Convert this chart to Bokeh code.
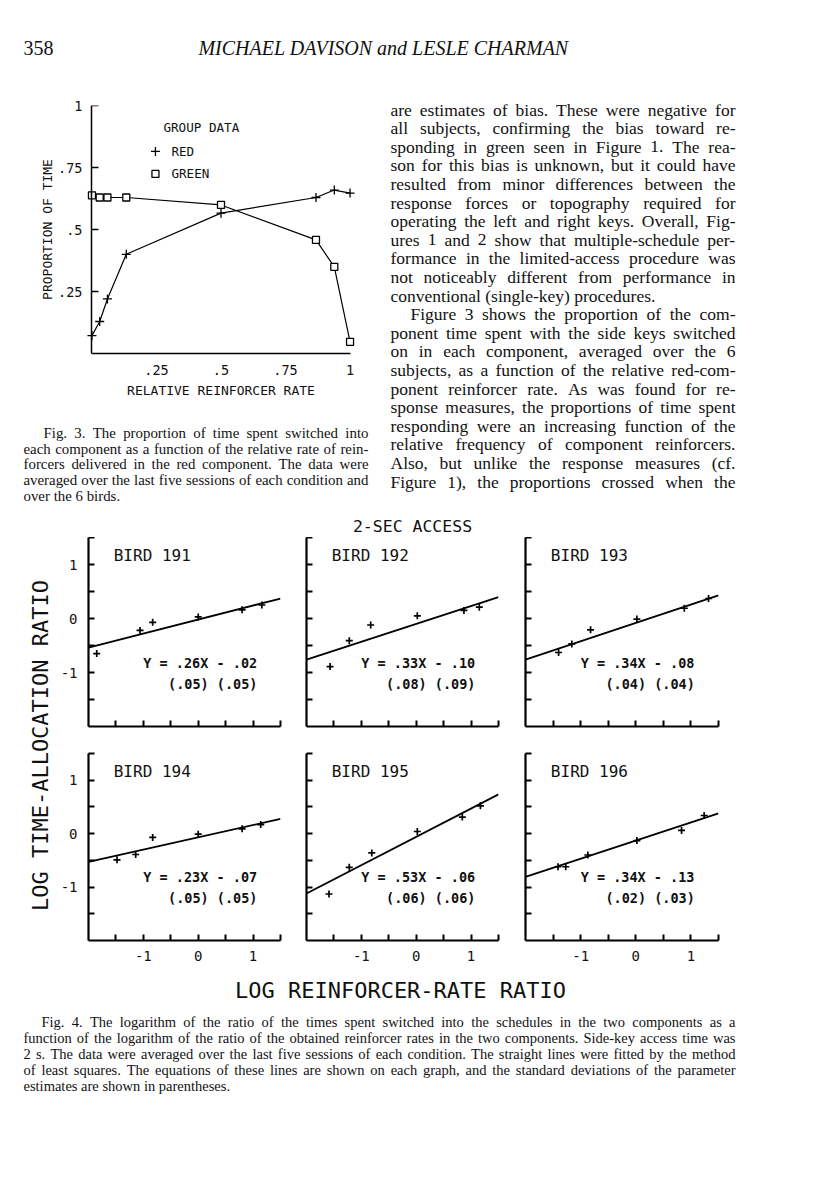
import math
from bokeh.plotting import figure
from bokeh.models import Range1d, FixedTicker, LinearAxis
from bokeh.layouts import row, column
from bokeh.core.properties import value
from bokeh.embed import file_html
from bokeh.resources import INLINE

# ---------------- Fig. 3 data ----------------
rel_red_rate = [0.0, 0.03, 0.06, 0.133, 0.5, 0.868, 0.939, 1.0]
prop_red = [0.072, 0.129, 0.22, 0.40, 0.566, 0.629, 0.659, 0.647]
prop_green = [0.638, 0.629, 0.629, 0.629, 0.599, 0.458, 0.349, 0.047]
fig3_ticks = [0.25, 0.5, 0.75, 1.0]
fig3_tick_labels = [".25", ".5", ".75", "1"]

# ---------------- Fig. 4 data ----------------
bird_names = ["BIRD 191", "BIRD 192", "BIRD 193", "BIRD 194", "BIRD 195", "BIRD 196"]
log_rr_191 = [-1.85, -1.06, -0.83, 0.00, 0.80, 1.16]
log_ta_191 = [-0.65, -0.22, -0.07, 0.03, 0.16, 0.25]
log_rr_192 = [-1.57, -1.22, -0.83, 0.02, 0.87, 1.15]
log_ta_192 = [-0.89, -0.41, -0.12, 0.05, 0.15, 0.21]
log_rr_193 = [-1.40, -1.16, -0.82, 0.02, 0.88, 1.32]
log_ta_193 = [-0.63, -0.47, -0.21, -0.01, 0.19, 0.37]
log_rr_194 = [-1.48, -1.14, -0.83, 0.00, 0.80, 1.14]
log_ta_194 = [-0.49, -0.39, -0.07, -0.01, 0.09, 0.17]
log_rr_195 = [-1.59, -1.22, -0.81, 0.02, 0.84, 1.17]
log_ta_195 = [-1.13, -0.63, -0.36, 0.04, 0.31, 0.52]
log_rr_196 = [-1.41, -1.27, -0.87, 0.02, 0.83, 1.24]
log_ta_196 = [-0.62, -0.62, -0.40, -0.13, 0.06, 0.34]
slopes = [0.26, 0.33, 0.34, 0.23, 0.53, 0.34]
intercepts = [-0.02, -0.10, -0.08, -0.07, -0.06, -0.13]
equations = ["Y = .26X - .02", "Y = .33X - .10", "Y = .34X - .08",
             "Y = .23X - .07", "Y = .53X - .06", "Y = .34X - .13"]
std_devs = ["(.05)  (.05)", "(.08)  (.09)", "(.04)  (.04)",
            "(.05)  (.05)", "(.06)  (.06)", "(.02)  (.03)"]
fig4_major_ticks = [-1, 0, 1]
fig4_minor_ticks = [-1.5, -0.5, 0.5, 1.5]
fig4_tick_labels = ["-1", "0", "1"]
log_rr = [log_rr_191, log_rr_192, log_rr_193, log_rr_194, log_rr_195, log_rr_196]
log_ta = [log_ta_191, log_ta_192, log_ta_193, log_ta_194, log_ta_195, log_ta_196]

# ---------------- page text ----------------
page_number = "358"
running_head = "MICHAEL DAVISON and LESLE CHARMAN"
right_column_lines = [
    "are estimates of bias. These were negative for",
    "all subjects, confirming the bias toward re-",
    "sponding in green seen in Figure 1. The rea-",
    "son for this bias is unknown, but it could have",
    "resulted from minor differences between the",
    "response forces or topography required for",
    "operating the left and right keys. Overall, Fig-",
    "ures 1 and 2 show that multiple-schedule per-",
    "formance in the limited-access procedure was",
    "not noticeably different from performance in",
    "conventional (single-key) procedures.",
    "Figure 3 shows the proportion of the com-",
    "ponent time spent with the side keys switched",
    "on in each component, averaged over the 6",
    "subjects, as a function of the relative red-com-",
    "ponent reinforcer rate. As was found for re-",
    "sponse measures, the proportions of time spent",
    "responding were an increasing function of the",
    "relative frequency of component reinforcers.",
    "Also, but unlike the response measures (cf.",
    "Figure 1), the proportions crossed when the",
]
caption3_lines = [
    "Fig. 3.  The proportion of time spent switched into",
    "each component as a function of the relative rate of rein-",
    "forcers delivered in the red component. The data were",
    "averaged over the last five sessions of each condition and",
    "over the 6 birds.",
]
caption4_lines = [
    "Fig. 4.  The logarithm of the ratio of the times spent switched into the schedules in the two components as a",
    "function of the logarithm of the ratio of the obtained reinforcer rates in the two components. Side-key access time was",
    "2 s. The data were averaged over the last five sessions of each condition. The straight lines were fitted by the method",
    "of least squares. The equations of these lines are shown on each graph, and the standard deviations of the parameter",
    "estimates are shown in parentheses.",
]

MONO = "DejaVu Sans Mono"
SERIF = "Liberation Serif"
INK = "#111111"

# Times-compatible advance widths (1/1000 em) used to justify lines
TW = {' ': 250, '!': 333, '"': 408, '(': 333, ')': 333, ',': 250, '-': 333, '.': 250,
      '/': 278, ':': 278, ';': 278, "'": 333, '?': 444}
for d in "0123456789":
    TW[d] = 500
TW.update(dict(A=722, B=667, C=667, D=722, E=611, F=556, G=722, H=722, I=333, J=389, K=722,
               L=611, M=889, N=722, O=722, P=556, Q=722, R=667, S=556, T=611, U=722, V=722,
               W=944, X=722, Y=722, Z=611))
TW.update(dict(a=444, b=500, c=444, d=500, e=444, f=333, g=500, h=500, i=278, j=278, k=500,
               l=278, m=778, n=500, o=500, p=500, q=500, r=333, s=389, t=278, u=500, v=500,
               w=722, x=500, y=500, z=444))


def em_width(s):
    return sum(TW.get(c, 500) for c in s) / 1000.0


def text_canvas(x0, y0, w, h):
    p = figure(width=w, height=h, x_range=Range1d(x0, x0 + w), y_range=Range1d(y0 + h, y0),
               output_backend="svg", toolbar_location=None, title=None,
               x_axis_location=None, y_axis_location=None, min_border=0, frame_align=False)
    p.outline_line_color = None
    p.grid.visible = False
    return p


def set_block(p, lines, x_left, width, y_first, lead, fs_cap, indent, indented, last):
    # font size: as large as allowed while every justified line still fits
    fits = []
    for i, line in enumerate(lines):
        if i in last:
            continue
        avail = width - (indent if i in indented else 0)
        fits.append(avail * 0.99 / em_width(line))
    fs = min([fs_cap] + fits)
    xs, ys, ts = [], [], []
    for i, line in enumerate(lines):
        words = line.split()
        x0 = x_left + (indent if i in indented else 0)
        avail = x_left + width - x0
        wds = [em_width(w) * fs for w in words]
        if i in last or len(words) < 2:
            gap = 0.25 * fs
        else:
            gap = (avail - sum(wds)) / (len(words) - 1)
        x = x0
        yb = y_first + i * lead + 0.23 * fs
        for w, wd in zip(words, wds):
            xs.append(x)
            ys.append(yb)
            ts.append(w)
            x += wd + gap
    p.text(x=xs, y=ys, text=ts, text_font=value(SERIF), text_font_size=value(f"{fs:.2f}px"),
           text_baseline="alphabetic", text_align="left", text_color=INK)


# ---------------- header ----------------
header = text_canvas(0, 0, 816, 80)
header.text(x=[23], y=[47], text=[page_number], text_font=value(SERIF),
            text_font_size=value("20px"), text_baseline="alphabetic", text_color=INK)
header.text(x=[383], y=[47], text=[running_head], text_font=value(SERIF),
            text_font_size=value("20px"), text_font_style="italic", text_align="center",
            text_baseline="alphabetic", text_color=INK)

# ---------------- Fig. 3 ----------------
p3 = figure(width=380, height=320, x_range=Range1d(-0.025, 1.025), y_range=Range1d(0, 1),
            output_backend="svg", toolbar_location=None, title=None, frame_align=False,
            min_border_left=85, min_border_right=24, min_border_top=25, min_border_bottom=42)
p3.outline_line_color = None
p3.grid.visible = False
p3.line(rel_red_rate, prop_red, line_color="black", line_width=1.2)
p3.line(rel_red_rate, prop_green, line_color="black", line_width=1.2)
p3.scatter(rel_red_rate, prop_red, marker="cross", size=9, line_color="black", line_width=1.3)
p3.scatter(rel_red_rate, prop_green, marker="square", size=7, fill_color="white",
           line_color="black", line_width=1.3)
# legend
p3.text(x=[0.277], y=[0.913], text=["GROUP DATA"], text_font=value(MONO),
        text_font_size=value("12.6px"), text_baseline="middle", text_color=INK)
p3.scatter([0.246], [0.815], marker="cross", size=9, line_color="black", line_width=1.3)
p3.scatter([0.246], [0.724], marker="square", size=7, fill_color="white", line_color="black",
           line_width=1.3)
p3.text(x=[0.308, 0.308], y=[0.815, 0.724], text=["RED", "GREEN"], text_font=value(MONO),
        text_font_size=value("12.6px"), text_baseline="middle", text_color=INK)

xa = p3.xaxis[0]
ya = p3.yaxis[0]          # labels only (drawn at the frame edge)
y_line = LinearAxis(fixed_location=0)   # axis line + ticks drawn at x = 0
p3.add_layout(y_line, "left")
for ax in (xa, ya, y_line):
    ax.ticker = FixedTicker(ticks=fig3_ticks)
    ax.major_label_text_font = MONO
    ax.major_label_text_font_size = "13.5px"
    ax.major_label_text_color = INK
    ax.axis_label_text_font = MONO
    ax.axis_label_text_font_size = "13px"
    ax.axis_label_text_font_style = "normal"
    ax.axis_label_text_color = INK
    ax.axis_line_width = 1.5
    ax.major_tick_line_width = 1.5
    ax.minor_tick_line_color = None
xa.bounds = (0, 1)
xa.major_label_overrides = dict(zip(fig3_ticks, fig3_tick_labels))
xa.major_tick_in = 0
xa.major_tick_out = 0
xa.major_label_standoff = 11
xa.axis_label = "RELATIVE REINFORCER RATE"
xa.axis_label_standoff = 5

ya.major_label_overrides = dict(zip(fig3_ticks, fig3_tick_labels))
ya.axis_line_color = None
ya.major_tick_line_color = None
ya.major_tick_in = 0
ya.major_tick_out = 0
ya.major_label_standoff = 3
ya.axis_label = "PROPORTION OF TIME"
ya.axis_label_standoff = 0

y_line.bounds = (0, 1)
y_line.major_label_overrides = {t: "" for t in fig3_ticks}
y_line.major_label_text_font_size = "1px"
y_line.major_label_standoff = 0
y_line.major_tick_in = 7
y_line.major_tick_out = 0

# ---------------- Fig. 3 caption & right column ----------------
cap3 = text_canvas(0, 400, 380, 105)
set_block(cap3, caption3_lines, 23, 345, 429, 15.7, 15.0, 20, {0}, {4})

right_text = text_canvas(380, 80, 436, 425)
set_block(right_text, right_column_lines, 390, 345, 105.0, 18.6, 17.5, 20, {11}, {10})

# ---------------- Fig. 4 ----------------
YLAB_W = 57
PANEL_W = [241, 218, 300]
PANEL_L = [31, 8, 9]
FRAME_W = [192, 192, 193]
ROW_H = [203, 235]
ROW_T = [0, 13]
FRAME_H = [189, 187]


def bird_panel(k):
    r, c = divmod(k, 3)
    w, h = PANEL_W[c], ROW_H[r]
    p = figure(width=w, height=h, x_range=Range1d(-2, 1.5), y_range=Range1d(-2, 1.5),
               output_backend="svg", toolbar_location=None, title=None, frame_align=False,
               min_border_left=PANEL_L[c], min_border_right=w - PANEL_L[c] - FRAME_W[c],
               min_border_top=ROW_T[r], min_border_bottom=h - ROW_T[r] - FRAME_H[r])
    p.outline_line_color = None
    p.grid.visible = False
    x_end = [-2.0, 1.5]
    p.line(x_end, [slopes[k] * x + intercepts[k] for x in x_end], line_color="black",
           line_width=1.8)
    p.scatter(log_rr[k], log_ta[k], marker="cross", size=7, line_color="black", line_width=1.7)
    p.text(x=[-1.54], y=[1.16], text=[bird_names[k]], text_font=value(MONO),
           text_font_size=value("16px"), text_baseline="middle", text_color=INK)
    p.text(x=[-1.0], y=[-0.82], text=[equations[k]], text_font=value(MONO),
           text_font_size=value("13.5px"), text_font_style="bold", text_baseline="middle",
           text_color=INK)
    p.text(x=[-0.55], y=[-1.21], text=[std_devs[k]], text_font=value(MONO),
           text_font_size=value("13.5px"), text_font_style="bold", text_baseline="middle",
           text_color=INK)
    for ax in (p.xaxis[0], p.yaxis[0]):
        ax.ticker = FixedTicker(ticks=fig4_major_ticks, minor_ticks=fig4_minor_ticks)
        ax.major_tick_in = 6
        ax.major_tick_out = 0
        ax.minor_tick_in = 6
        ax.minor_tick_out = 0
        ax.axis_line_width = 2.2
        ax.major_tick_line_width = 2
        ax.minor_tick_line_width = 2
        ax.major_label_text_font = MONO
        ax.major_label_text_font_size = "14px"
        ax.major_label_text_color = INK
    show_x = (r == 1)
    show_y = (c == 0)
    for ax, show, standoff in ((p.xaxis[0], show_x, 10), (p.yaxis[0], show_y, 11)):
        if show:
            ax.major_label_overrides = dict(zip(fig4_major_ticks, fig4_tick_labels))
            ax.major_label_standoff = standoff
        else:
            ax.major_label_overrides = {t: "" for t in fig4_major_ticks}
            ax.major_label_text_font_size = "1px"
            ax.major_label_standoff = 0
    return p


panels = [bird_panel(k) for k in range(6)]

ylab = text_canvas(0, 505, YLAB_W, 498)
ylab.text(x=[40], y=[745], text=["LOG TIME-ALLOCATION RATIO"], angle=math.pi / 2,
          text_font=value(MONO), text_font_size=value("22px"), text_align="center",
          text_baseline="middle", text_color=INK)

title4 = text_canvas(YLAB_W, 505, 816 - YLAB_W, 32)
title4.text(x=[412], y=[526], text=["2-SEC ACCESS"], text_font=value(MONO),
            text_font_size=value("16.5px"), text_align="center", text_baseline="middle",
            text_color=INK)

xlab4 = text_canvas(YLAB_W, 975, 816 - YLAB_W, 28)
xlab4.text(x=[400], y=[990], text=["LOG REINFORCER-RATE RATIO"], text_font=value(MONO),
           text_font_size=value("22px"), text_align="center", text_baseline="middle",
           text_color=INK)

cap4 = text_canvas(0, 1003, 816, 180)
set_block(cap4, caption4_lines, 23, 712, 1018, 16, 14.5, 18, {0}, {4})

layout = column(
    header,
    row(column(p3, cap3), right_text),
    row(ylab, column(title4, row(*panels[:3]), row(*panels[3:]), xlab4)),
    cap4,
)

with open("out.html", "w") as f:
    f.write(file_html(layout, INLINE, title="Davison & Charman, p. 358"))
